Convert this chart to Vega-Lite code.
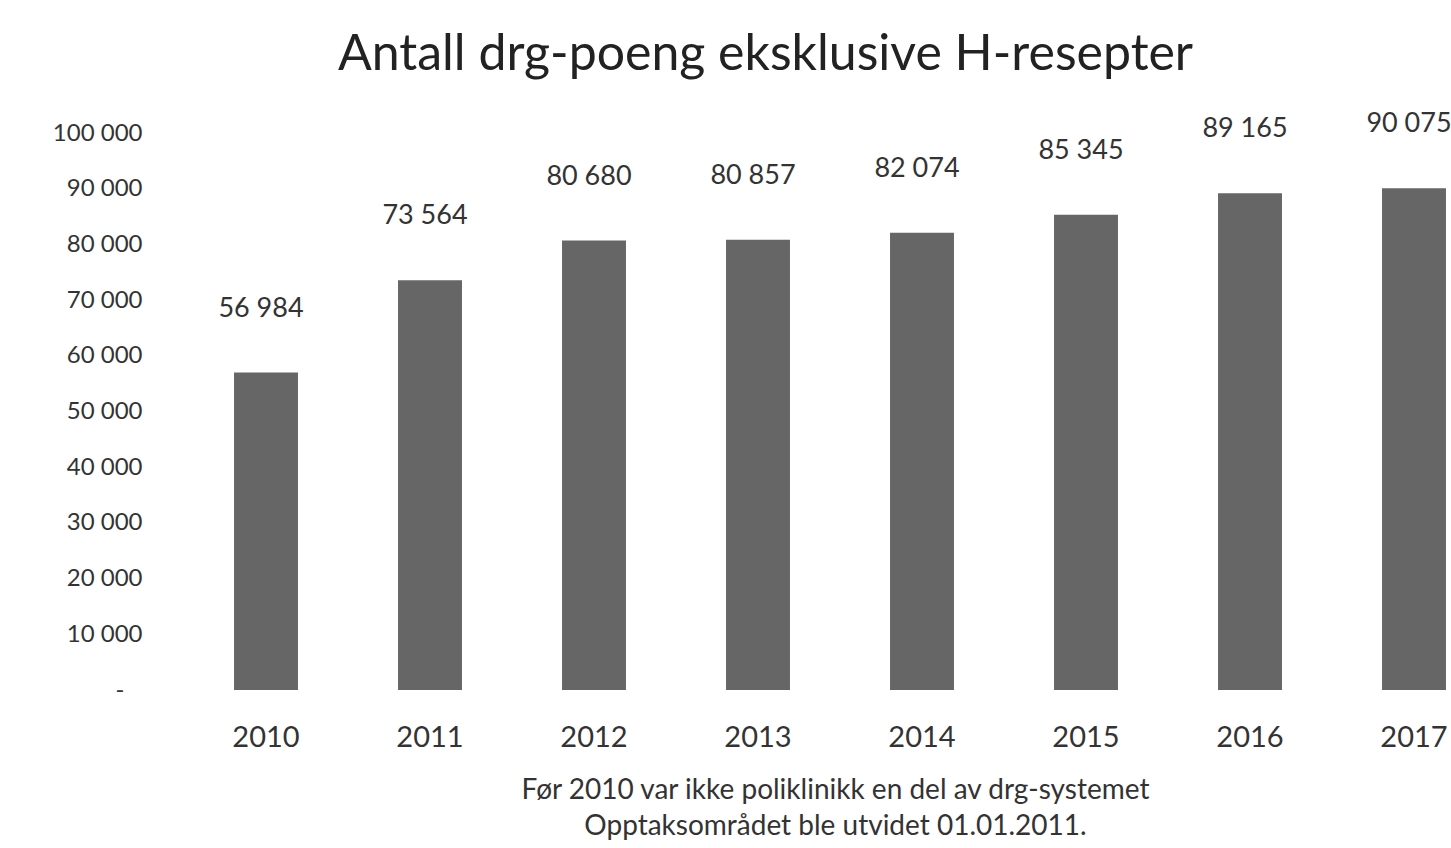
{
  "$schema": "https://vega.github.io/schema/vega-lite/v6.json",
  "autosize": {"type": "none"},
  "width": 1267,
  "height": 557,
  "padding": {"left": 184, "top": 133, "right": 0, "bottom": 158},
  "background": "white",
  "title": {
    "text": "Antall drg-poeng eksklusive H-resepter",
    "font": "Lato",
    "fontSize": 50,
    "fontWeight": "normal",
    "color": "#222222",
    "anchor": "middle",
    "dx": -52,
    "offset": 30
  },
  "data": {
    "values": [
      {"year": "2010", "value": 56984},
      {"year": "2011", "value": 73564},
      {"year": "2012", "value": 80680},
      {"year": "2013", "value": 80857},
      {"year": "2014", "value": 82074},
      {"year": "2015", "value": 85345},
      {"year": "2016", "value": 89165},
      {"year": "2017", "value": 90075}
    ]
  },
  "config": {
    "view": {"stroke": null},
    "axis": {"labelFont": "Lato", "titleFont": "Lato", "labelColor": "#333333", "titleColor": "#333333"}
  },
  "encoding": {
    "x": {
      "field": "year",
      "type": "nominal",
      "scale": {"range": [0, 1312], "paddingInner": 0.61, "paddingOuter": 0.305},
      "axis": {
        "labelAngle": 0,
        "labelFontSize": 29,
        "labelPadding": 33,
        "domain": false,
        "ticks": false,
        "title": ["Før 2010 var ikke poliklinikk en del av drg-systemet", "Opptaksområdet ble utvidet 01.01.2011."],
        "titleFontSize": 28,
        "titleFontWeight": "normal",
        "titleLineHeight": 36,
        "titleX": 651,
        "titleY": 86,
        "titleBaseline": "top"
      }
    },
    "y": {
      "field": "value",
      "type": "quantitative",
      "scale": {"domain": [0, 100000], "nice": false},
      "axis": {
        "values": [0, 10000, 20000, 30000, 40000, 50000, 60000, 70000, 80000, 90000, 100000],
        "labelExpr": "datum.value == 0 ? '-' : replace(format(datum.value, ','), ',', ' ')",
        "labelFontSize": 24,
        "labelPadding": {"condition": {"test": "datum.value == 0", "value": 60}, "value": 42},
        "domain": false,
        "ticks": false,
        "grid": false,
        "title": null
      }
    }
  },
  "layer": [
    {"mark": {"type": "bar", "color": "#666666"}},
    {
      "mark": {"type": "text", "dy": -64, "dx": -5, "font": "Lato", "fontSize": 27, "color": "#333333", "baseline": "middle"},
      "encoding": {
        "text": {"field": "label", "type": "nominal"}
      },
      "transform": [{"calculate": "replace(format(datum.value, ','), ',', ' ')", "as": "label"}]
    }
  ]
}
